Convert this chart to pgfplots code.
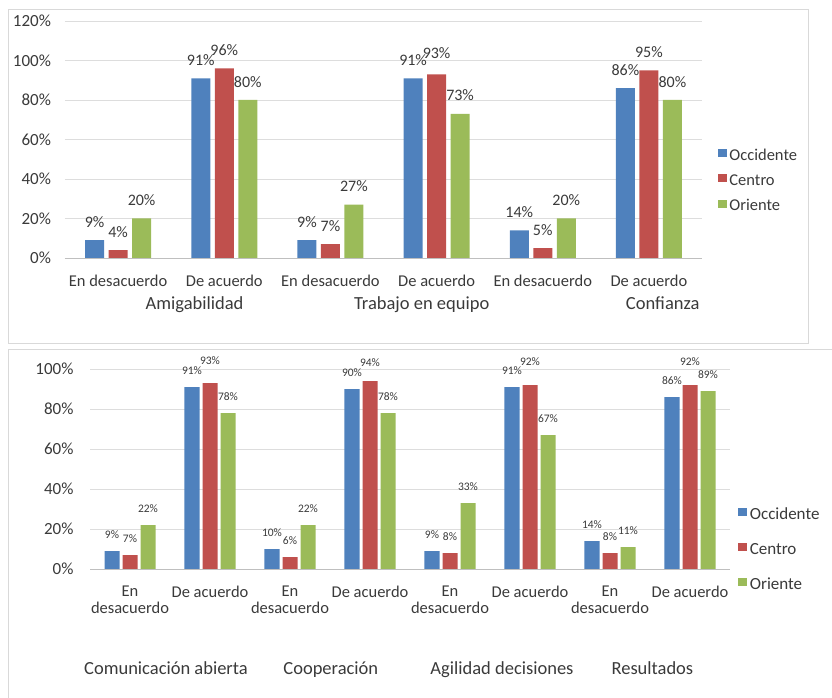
\documentclass[border=0pt]{standalone}
\usepackage{fontspec}
\setmainfont{Carlito}
\usepackage{pgfplots}
\usepackage{pgfplotstable}
\pgfplotsset{compat=1.18}

\definecolor{occ}{HTML}{4F81BD}
\definecolor{cen}{HTML}{C0504D}
\definecolor{ori}{HTML}{9BBB59}
\definecolor{txt}{HTML}{3A3A3A}
\definecolor{gridc}{HTML}{DDDDDD}
\definecolor{framec}{HTML}{D9D9D9}
\definecolor{axisc}{HTML}{BFBFBF}

% x = category, y = percent, dy = extra lift of the value label
\pgfplotstableread{
x y dy
0 9 0
1 91 0
2 9 0
3 91 0
4 14 0
5 86 0
}\topOcc
\pgfplotstableread{
x y dy
0 4 0
1 96 0
2 7 0
3 93 3
4 5 0
5 95 0
}\topCen
\pgfplotstableread{
x y dy
0 20 0
1 80 0
2 27 0
3 73 0
4 20 0
5 80 0
}\topOri

\pgfplotstableread{
x y dy
0 9 0
1 91 0
2 10 0
3 90 0
4 9 0
5 91 0
6 14 0
7 86 0
}\botOcc
\pgfplotstableread{
x y dy
0 7 0
1 93 6
2 6 0
3 94 2
4 8 0
5 92 7
6 8 0
7 92 7
}\botCen
\pgfplotstableread{
x y dy
0 22 0
1 78 0
2 22 0
3 78 0
4 33 0
5 67 0
6 11 0
7 89 0
}\botOri

\newcommand{\ticksize}{\fontsize{16.5}{17}\selectfont}
\newcommand{\ysize}{\fontsize{17}{18}\selectfont}
\newcommand{\groupsize}{\fontsize{18.5}{19}\selectfont}

\pgfplotsset{
  excelbars/.style={
    scale only axis, clip=false, enlargelimits=false,
    ymin=0,
    axis line style={draw=none},
    major tick length=0pt,
    ymajorgrids, major grid style={draw=gridc, line width=0.9pt},
    /pgf/number format/assume math mode=true,
    yticklabel={\pgfmathprintnumber{\tick}\%},
    tick label style={text=txt},
    yticklabel style={font=\ysize},
    xticklabel style={font=\ticksize, inner sep=0pt, anchor=north, align=center},
    nodes near coords={\pgfmathprintnumber{\pgfplotspointmeta}\%},
    point meta=explicit,
    visualization depends on={\thisrow{dy} \as \labeldy},
    legend style={draw=none, fill=none, text=txt, font=\ticksize,
      nodes={inner sep=0pt, text height=11pt, text depth=0pt},
      column sep=2.5pt, anchor=north west},
    legend cell align=left,
  },
}

\begin{document}
\begin{tikzpicture}
\useasboundingbox (0pt,0pt) rectangle (832pt,697pt);

% chart frames
\draw[framec, line width=1pt] (8pt,354pt) rectangle (808pt,687pt);
\draw[framec, line width=1pt] (8pt,-3pt) -- (8pt,348pt) -- (836pt,348pt);

% ---------- upper chart ----------
\begin{axis}[excelbars,
  at={(65pt,439pt)}, anchor=south west,
  width=637pt, height=237pt,
  xmin=-0.5, xmax=5.5, ymax=120,
  ytick={0,20,...,120},
  yticklabel style={xshift=-10.5pt},
  xtick={0,...,5},
  xticklabels={En desacuerdo, De acuerdo, En desacuerdo, De acuerdo, En desacuerdo, De acuerdo},
  xticklabel style={yshift=-17pt},
  ybar=4.5pt, bar width=19pt,
  every node near coord/.append style={text=txt, font=\fontsize{16}{17}\selectfont,
    inner sep=0pt, yshift=12.5pt, yshift=\labeldy},
  legend image code/.code={\fill[#1, draw=none] (0pt,-2.5pt) rectangle (9pt,5.5pt);},
  legend style={at={(axis description cs:1.020,0.468)}, row sep=14.2pt},
]
\addplot[fill=occ, draw=none] table[x=x, y=y, meta=y] {\topOcc};
\addplot[fill=cen, draw=none] table[x=x, y=y, meta=y] {\topCen};
\addplot[fill=ori, draw=none] table[x=x, y=y, meta=y] {\topOri};
\legend{Occidente, Centro, Oriente}
\draw[axisc, line width=0.9pt] (rel axis cs:0,0) -- (rel axis cs:1,0);
\node[font=\groupsize, text=txt, anchor=base, yshift=-52pt] at (axis cs:0.72,0) {Amigabilidad};
\node[font=\groupsize, text=txt, anchor=base, yshift=-52pt] at (axis cs:2.86,0) {Trabajo en equipo};
\node[font=\groupsize, text=txt, anchor=base, yshift=-52pt] at (axis cs:5.13,0) {Confianza};
\end{axis}

% ---------- lower chart ----------
\begin{axis}[excelbars,
  at={(90pt,128pt)}, anchor=south west,
  width=640pt, height=200pt,
  xmin=-0.5, xmax=7.5, ymax=100,
  ytick={0,20,...,100},
  yticklabel style={xshift=-13pt},
  xtick={0,...,7},
  xticklabels={{En\\desacuerdo}, {De acuerdo}, {En\\desacuerdo}, {De acuerdo},
               {En\\desacuerdo}, {De acuerdo}, {En\\desacuerdo}, {De acuerdo}},
  xticklabel style={yshift=-17pt},
  ybar=3pt, bar width=15pt,
  every node near coord/.append style={text=txt, font=\fontsize{11.5}{12}\selectfont,
    inner sep=0pt, yshift=12.5pt, yshift=\labeldy},
  legend image code/.code={\fill[#1, draw=none] (0pt,-2.5pt) rectangle (9pt,6pt);},
  legend style={at={(axis description cs:1.008,0.3185)}, row sep=23.7pt,
    font=\fontsize{17}{18}\selectfont},
]
\addplot[fill=occ, draw=none] table[x=x, y=y, meta=y] {\botOcc};
\addplot[fill=cen, draw=none] table[x=x, y=y, meta=y] {\botCen};
\addplot[fill=ori, draw=none] table[x=x, y=y, meta=y] {\botOri};
\legend{Occidente, Centro, Oriente}
\draw[axisc, line width=0.9pt] (rel axis cs:0,0) -- (rel axis cs:1,0);
\node[font=\groupsize, text=txt, anchor=base, yshift=-105pt] at (axis cs:0.45,0) {Comunicación abierta};
\node[font=\groupsize, text=txt, anchor=base, yshift=-105pt] at (axis cs:2.51,0) {Cooperación};
\node[font=\groupsize, text=txt, anchor=base, yshift=-105pt] at (axis cs:4.65,0) {Agilidad decisiones};
\node[font=\groupsize, text=txt, anchor=base, yshift=-105pt] at (axis cs:6.53,0) {Resultados};
\end{axis}
\end{tikzpicture}
\end{document}
